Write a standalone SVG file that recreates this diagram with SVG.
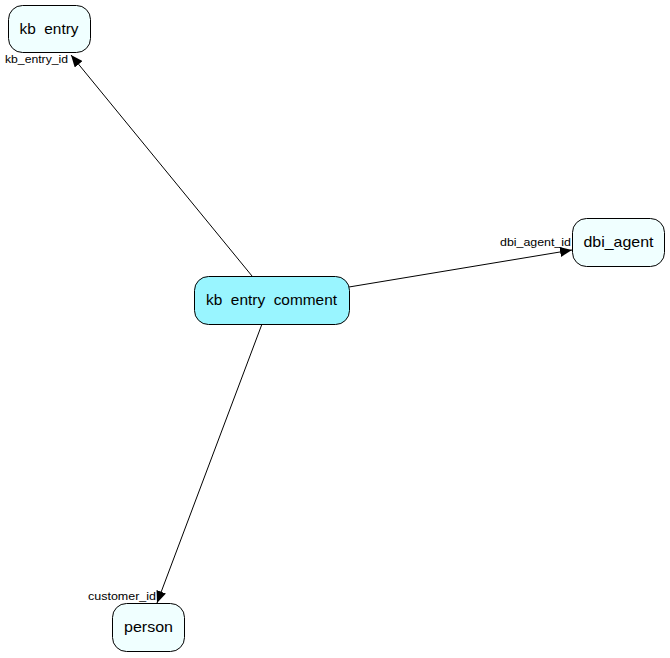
<svg xmlns="http://www.w3.org/2000/svg" width="670" height="658" viewBox="0 0 670 658">
<defs>
<style>
.node rect{stroke:#000;stroke-width:1;}
.t{font-family:"Liberation Sans",Arial,sans-serif;font-size:15px;fill:#000;text-anchor:middle;white-space:pre;}
.e{font-family:"Liberation Sans",Arial,sans-serif;font-size:11px;fill:#000;white-space:pre;}
.edge line{stroke:#000;stroke-width:1;}
</style>
<marker id="arr" viewBox="0 0 12 10" refX="12" refY="5" markerWidth="12" markerHeight="10" markerUnits="userSpaceOnUse" orient="auto">
<path d="M0,0 L12,5 L0,10 Z" fill="#000"/>
</marker>
</defs>
<rect width="670" height="658" fill="#fff"/>
<g id="connectors" class="edge">
<line x1="252" y1="276" x2="71" y2="55" marker-end="url(#arr)"/>
<line x1="349" y1="287" x2="572" y2="250" marker-end="url(#arr)"/>
<line x1="262" y1="324" x2="157" y2="603" marker-end="url(#arr)"/>
<text class="e" x="5" y="63" textLength="63" lengthAdjust="spacingAndGlyphs">kb_entry_id</text>
<text class="e" x="500" y="246" textLength="71" lengthAdjust="spacingAndGlyphs">dbi_agent_id</text>
<text class="e" x="88" y="600" textLength="68" lengthAdjust="spacingAndGlyphs">customer_id</text>
</g>
<g id="kb_entry" class="node">
<rect x="8.5" y="5.5" width="82" height="47" rx="14" fill="#f0ffff"/>
<text class="t" x="49" y="34" textLength="59" lengthAdjust="spacingAndGlyphs">kb  entry</text>
</g>
<g id="kb_entry_comment" class="node">
<rect x="194.5" y="276.5" width="155" height="48" rx="14" fill="#99f5ff"/>
<text class="t" x="271.5" y="305" textLength="131" lengthAdjust="spacingAndGlyphs">kb  entry  comment</text>
</g>
<g id="dbi_agent" class="node">
<rect x="572.5" y="218.5" width="92" height="48" rx="14" fill="#f0ffff"/>
<text class="t" x="618.5" y="247" textLength="70" lengthAdjust="spacingAndGlyphs">dbi_agent</text>
</g>
<g id="person" class="node">
<rect x="112.5" y="603.5" width="72" height="48" rx="14" fill="#f0ffff"/>
<text class="t" x="148.5" y="632" textLength="49" lengthAdjust="spacingAndGlyphs">person</text>
</g>
</svg>
